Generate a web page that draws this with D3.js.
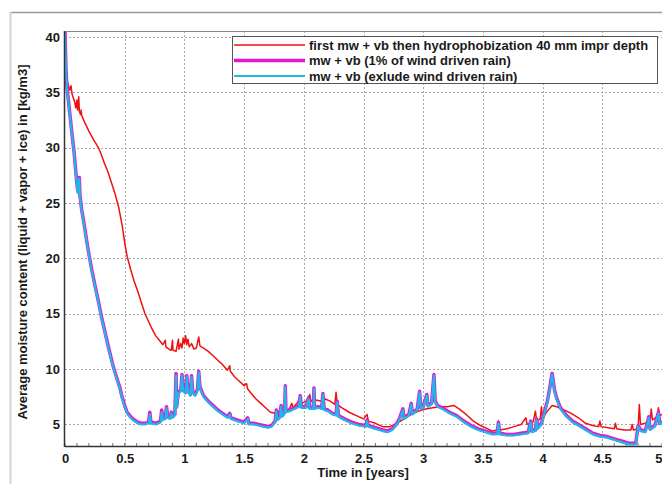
<!DOCTYPE html>
<html><head><meta charset="utf-8">
<script src="https://cdn.jsdelivr.net/npm/d3@7"></script>
<style>
html,body{margin:0;padding:0;background:#fff;}
text{font-family:Arial,"Liberation Sans",sans-serif;font-weight:bold;fill:#1a1a1a;}
</style></head>
<body><svg id="c" width="662" height="484"></svg>
<script>
// ---- data ----
const seriesNames = [
  "first mw + vb then hydrophobization 40 mm impr depth",
  "mw + vb (1% of wind driven rain)",
  "mw + vb (exlude wind driven rain)"
];
const xTicks = [0, 0.5, 1, 1.5, 2, 2.5, 3, 3.5, 4, 4.5, 5];
const xTickLabels = ["0", "0.5", "1", "1.5", "2", "2.5", "3", "3.5", "4", "4.5", "5"];
const yTicks = [5, 10, 15, 20, 25, 30, 35, 40];
const yTickLabels = ["5", "10", "15", "20", "25", "30", "35", "40"];

const redSeries = [[0,40.3],[0.005,38],[0.01,37.2],[0.02,36],[0.03,35.5],[0.04,35.2],[0.05,35.6],[0.06,34.8],[0.08,34.2],[0.09,33.6],[0.10,34.3],[0.105,33.4],[0.11,33.8],[0.115,34.6],[0.12,33.3],[0.13,33.0],[0.135,33.4],[0.14,32.9],[0.16,32.4],[0.20,31.5],[0.24,30.7],[0.28,30.0],[0.30,29.5],[0.33,28.6],[0.36,27.8],[0.39,26.8],[0.42,25.8],[0.45,24.6],[0.48,22.9],[0.50,21.4],[0.52,20.2],[0.55,19.0],[0.58,17.9],[0.61,17.0],[0.64,16.0],[0.67,15.0],[0.70,14.3],[0.73,13.6],[0.76,13.0],[0.79,12.6],[0.82,12.2],[0.84,12.6],[0.845,12.0],[0.87,11.8],[0.89,11.7],[0.90,12.6],[0.905,11.7],[0.93,11.6],[0.95,12.7],[0.955,11.8],[0.97,12.3],[0.98,11.9],[0.99,12.8],[1.00,12.3],[1.01,13.0],[1.02,12.2],[1.03,12.7],[1.04,12.0],[1.06,12.3],[1.08,11.8],[1.10,11.9],[1.12,12.9],[1.13,12.1],[1.16,11.9],[1.20,11.6],[1.24,11.2],[1.28,10.8],[1.32,10.4],[1.36,9.9],[1.38,10.3],[1.385,9.8],[1.42,9.3],[1.46,8.9],[1.50,8.5],[1.52,8.7],[1.53,8.2],[1.56,7.8],[1.60,7.3],[1.64,6.9],[1.68,6.5],[1.72,6.1],[1.76,6.0],[1.78,6.0],[1.80,6.3],[1.81,6.0],[1.84,6.6],[1.85,6.2],[1.88,6.4],[1.90,6.9],[1.91,6.5],[1.95,7.0],[1.97,7.6],[1.98,6.9],[2.02,7.1],[2.05,7.7],[2.06,7.1],[2.10,7.2],[2.15,7.1],[2.18,7.3],[2.22,7.1],[2.26,6.8],[2.27,7.9],[2.28,6.8],[2.32,6.5],[2.38,6.1],[2.44,5.8],[2.50,5.5],[2.53,5.9],[2.54,5.3],[2.60,5.1],[2.66,4.8],[2.72,4.8],[2.78,5.1],[2.84,5.5],[2.90,5.9],[2.96,6.2],[3.02,6.4],[3.08,6.5],[3.14,6.6],[3.20,6.6],[3.26,6.7],[3.30,6.4],[3.36,5.9],[3.42,5.3],[3.48,4.9],[3.54,4.6],[3.58,4.4],[3.62,4.5],[3.63,5.3],[3.64,4.5],[3.70,4.6],[3.76,4.8],[3.82,5.0],[3.86,5.6],[3.87,5.0],[3.92,5.2],[3.94,6.2],[3.95,5.3],[3.98,5.5],[3.99,6.6],[4.00,5.6],[4.04,6.2],[4.08,6.7],[4.12,6.6],[4.18,6.3],[4.24,6.0],[4.30,5.6],[4.36,5.1],[4.42,4.9],[4.47,4.8],[4.48,5.3],[4.49,4.8],[4.55,4.7],[4.60,4.6],[4.61,5.1],[4.62,4.6],[4.68,4.5],[4.74,4.5],[4.75,5.0],[4.76,4.5],[4.80,4.6],[4.81,6.8],[4.82,5.0],[4.86,5.1],[4.90,5.3],[4.91,6.4],[4.92,5.4],[4.96,5.7],[4.97,6.5],[4.98,5.8],[5.0,5.9]];

const blueTimes = [0,0.004,0.008,0.015,0.03,0.045,0.06,0.075,0.09,0.10,0.11,0.115,0.12,0.125,0.14,0.16,0.18,0.20,0.22,0.25,0.28,0.31,0.34,0.37,0.40,0.43,0.46,0.48,0.50,0.52,0.55,0.58,0.61,0.64,0.67,0.70,0.71,0.72,0.76,0.80,0.81,0.82,0.84,0.85,0.86,0.88,0.89,0.90,0.92,0.93,0.935,0.95,0.97,0.98,0.99,1.01,1.02,1.03,1.05,1.06,1.07,1.09,1.11,1.12,1.13,1.16,1.20,1.24,1.28,1.32,1.36,1.38,1.39,1.44,1.50,1.53,1.54,1.58,1.62,1.66,1.70,1.73,1.76,1.77,1.78,1.80,1.81,1.82,1.84,1.845,1.85,1.88,1.92,1.96,1.97,1.98,2.02,2.04,2.05,2.08,2.085,2.09,2.12,2.15,2.16,2.17,2.20,2.24,2.27,2.28,2.29,2.34,2.40,2.46,2.52,2.53,2.54,2.60,2.66,2.70,2.74,2.78,2.80,2.83,2.84,2.88,2.90,2.91,2.95,2.97,2.98,3.00,3.03,3.04,3.07,3.09,3.10,3.12,3.16,3.22,3.28,3.34,3.40,3.46,3.52,3.58,3.62,3.63,3.64,3.70,3.76,3.82,3.88,3.90,3.91,3.94,3.95,3.96,3.99,4.02,4.04,4.06,4.08,4.10,4.12,4.15,4.20,4.25,4.30,4.36,4.42,4.48,4.54,4.60,4.66,4.72,4.78,4.80,4.82,4.86,4.89,4.90,4.94,4.97,4.98,5.0];

const cyanValues = [40.3,38.5,37,35.5,34,32.5,31,29.6,27.8,26.6,25.9,26.9,27.2,25.6,24.3,23.0,21.6,20.3,19.1,17.5,16.0,14.4,13.0,11.6,10.3,9.2,8.2,7.3,6.6,6.0,5.6,5.3,5.1,5.0,5.0,5.1,5.9,5.1,5.0,5.2,6.1,5.4,5.5,6.5,5.6,5.5,6.0,5.6,5.8,9.4,6.5,7.8,8.0,9.4,8.0,7.8,9.3,8.0,7.6,9.3,7.8,7.6,8.1,9.7,8.3,7.5,7.0,6.6,6.2,5.9,5.6,5.9,5.5,5.3,5.1,5.5,5.0,5.0,4.9,4.8,4.7,4.8,5.2,6.2,5.4,5.6,6.6,5.7,6.0,8.4,6.1,6.2,6.4,6.6,7.5,6.5,6.5,7.3,6.4,6.4,8.2,6.4,6.5,6.4,7.7,6.3,6.2,5.9,5.8,7.0,5.7,5.4,5.1,4.9,4.8,5.3,4.8,4.6,4.4,4.3,4.5,5.0,5.4,6.3,5.5,5.8,6.8,5.9,6.3,7.9,6.4,6.5,7.6,6.6,6.8,9.4,7.0,6.6,6.4,6.0,5.7,5.2,4.8,4.5,4.3,4.1,4.1,5.1,4.1,4.0,4.0,4.1,4.2,5.2,4.3,4.4,5.4,4.6,5.0,6.2,7.0,8.2,9.5,8.0,7.2,6.4,5.7,5.2,4.9,4.5,4.1,3.9,3.8,3.6,3.4,3.2,3.2,4.8,4.4,4.3,5.6,4.5,4.8,6.0,5.0,5.2];

const magentaValues = [40.5,38.7,37.1,35.6,34.1,32.6,31.1,29.7,27.9,26.7,26.0,27.0,27.3,25.7,24.4,23.1,21.7,20.4,19.2,17.6,16.1,14.5,13.1,11.7,10.4,9.3,8.3,7.4,6.7,6.1,5.7,5.4,5.2,5.1,5.1,5.2,6.1,5.2,5.1,5.3,6.3,5.5,5.6,6.6,5.7,5.6,6.1,5.7,5.9,9.6,6.6,7.9,8.1,9.5,8.1,7.9,9.4,8.1,7.7,9.4,7.9,7.7,8.2,9.8,8.4,7.6,7.1,6.7,6.3,6.0,5.7,6.0,5.6,5.4,5.2,5.6,5.1,5.1,5.0,4.9,4.8,4.9,5.3,6.3,5.5,5.7,6.7,5.8,6.1,8.5,6.2,6.3,6.5,6.7,7.6,6.6,6.6,7.4,6.5,6.5,8.3,6.5,6.6,6.5,7.8,6.4,6.3,6.0,5.9,7.1,5.8,5.5,5.2,5.0,4.9,5.4,4.9,4.7,4.5,4.4,4.6,5.1,5.5,6.4,5.6,5.9,6.9,6.0,6.4,8.0,6.5,6.6,7.7,6.7,6.9,9.5,7.1,6.7,6.5,6.1,5.8,5.3,4.9,4.6,4.4,4.2,4.2,5.2,4.2,4.1,4.1,4.2,4.3,5.3,4.4,4.5,5.5,4.7,5.1,6.3,7.1,8.3,9.6,8.1,7.3,6.5,5.8,5.3,5.0,4.6,4.2,4.0,3.9,3.7,3.5,3.3,3.3,4.9,4.5,4.4,5.7,4.6,4.9,6.1,5.1,5.3];

const colors = ["#ee1111", "#e815d0", "#1cb8e8"];

// ---- layout ----
const svg = d3.select("#c");
const L = 65, R = 662, T = 31, B = 446;
const x = d3.scaleLinear().domain([0, 5]).range([L, R]);
const y = d3.scaleLinear().domain([3.05, 40.54]).range([B, T]);

// outer frame
svg.append("line").attr("x1", 10).attr("x2", 662).attr("y1", 12.5).attr("y2", 12.5).attr("stroke", "#999").attr("stroke-width", 1.5);
svg.append("line").attr("x1", 10.5).attr("x2", 10.5).attr("y1", 12).attr("y2", 484).attr("stroke", "#d4d4d4").attr("stroke-width", 2);

// grid
const grid = svg.append("g");
xTicks.filter(d => d > 0 && d < 5).forEach(d => {
  grid.append("line").attr("x1", Math.round(x(d)) + 0.5).attr("x2", Math.round(x(d)) + 0.5)
    .attr("y1", T).attr("y2", B).attr("stroke", "#aaa").attr("stroke-dasharray", "2,2");
});
yTicks.forEach(d => {
  grid.append("line").attr("x1", L).attr("x2", R).attr("y1", Math.round(y(d)) + 0.5).attr("y2", Math.round(y(d)) + 0.5)
    .attr("stroke", "#aaa").attr("stroke-dasharray", "2,2");
});

// axes
const xAxis = d3.axisBottom(x).tickValues(xTicks).tickFormat((d, i) => xTickLabels[i]).tickSize(0).tickPadding(8);
const gx = svg.append("g").attr("transform", `translate(0,${B})`).call(xAxis);
gx.select(".domain").remove();
gx.selectAll("text").attr("font-size", 13).attr("font-family", "Arial, 'Liberation Sans', sans-serif").attr("font-weight", "bold").attr("fill", "#1a1a1a");
gx.selectAll("text").filter((d, i) => i === xTicks.length - 1).attr("text-anchor", "end").attr("dx", 0);

const yAxis = d3.axisLeft(y).tickValues(yTicks).tickFormat((d, i) => yTickLabels[i]).tickSize(0).tickPadding(5);
const gy = svg.append("g").attr("transform", `translate(${L},0)`).call(yAxis);
gy.select(".domain").remove();
gy.selectAll("text").attr("font-size", 13).attr("font-family", "Arial, 'Liberation Sans', sans-serif").attr("font-weight", "bold").attr("fill", "#1a1a1a");

// minor x ticks (inward)
d3.range(0, 51).map(i => i / 10).forEach(d => {
  svg.append("line").attr("x1", x(d)).attr("x2", x(d)).attr("y1", B).attr("y2", B - 3).attr("stroke", "#777").attr("stroke-width", 1);
});

// clip
svg.append("clipPath").attr("id", "clip").append("rect").attr("x", L).attr("y", T).attr("width", R - L).attr("height", B - T);

const line = d3.line().x(d => x(d[0])).y(d => y(d[1]));
const plot = svg.append("g").attr("clip-path", "url(#clip)");
const magentaSeries = blueTimes.map((t, i) => [t, magentaValues[i]]);
const cyanSeries = blueTimes.map((t, i) => [t, cyanValues[i]]);
plot.append("path").datum(redSeries).attr("d", line).attr("fill", "none").attr("stroke", colors[0]).attr("stroke-width", 1.5).attr("stroke-linejoin", "round");
plot.append("path").datum(magentaSeries).attr("d", line).attr("fill", "none").attr("stroke", colors[1]).attr("stroke-width", 3.5).attr("stroke-linejoin", "round");
plot.append("path").datum(cyanSeries).attr("d", line).attr("fill", "none").attr("stroke", colors[2]).attr("stroke-width", 2.2).attr("stroke-linejoin", "round");

// plot frame
svg.append("line").attr("x1", L).attr("x2", R).attr("y1", T + 0.5).attr("y2", T + 0.5).attr("stroke", "#888").attr("stroke-width", 1);
svg.append("line").attr("x1", L).attr("x2", R).attr("y1", B + 0.5).attr("y2", B + 0.5).attr("stroke", "#333").attr("stroke-width", 1.5);
svg.append("line").attr("x1", L - 0.5).attr("x2", L - 0.5).attr("y1", T).attr("y2", B + 1).attr("stroke", "#333").attr("stroke-width", 1.5);

// axis titles
svg.append("text").attr("x", 363).attr("y", 477).attr("text-anchor", "middle").attr("font-size", 13).text("Time in [years]");
svg.append("text").attr("transform", "translate(27,242) rotate(-90)").attr("text-anchor", "middle").attr("font-size", 13)
  .text("Average moisture content (liquid + vapor + ice) in [kg/m3]");

// legend
const lg = svg.append("g");
lg.append("rect").attr("x", 232.5).attr("y", 36.5).attr("width", 425).attr("height", 47).attr("fill", "#fff").attr("stroke", "#555").attr("stroke-width", 1);
const lw = [1.5, 3.5, 2.2];
seriesNames.forEach((name, i) => {
  const yy = 45 + i * 15.5;
  lg.append("line").attr("x1", 234).attr("x2", 305).attr("y1", yy).attr("y2", yy).attr("stroke", colors[i]).attr("stroke-width", lw[i]);
  lg.append("text").attr("x", 309).attr("y", yy + 4.5).attr("font-size", 13).text(name);
});
</script></body></html>
